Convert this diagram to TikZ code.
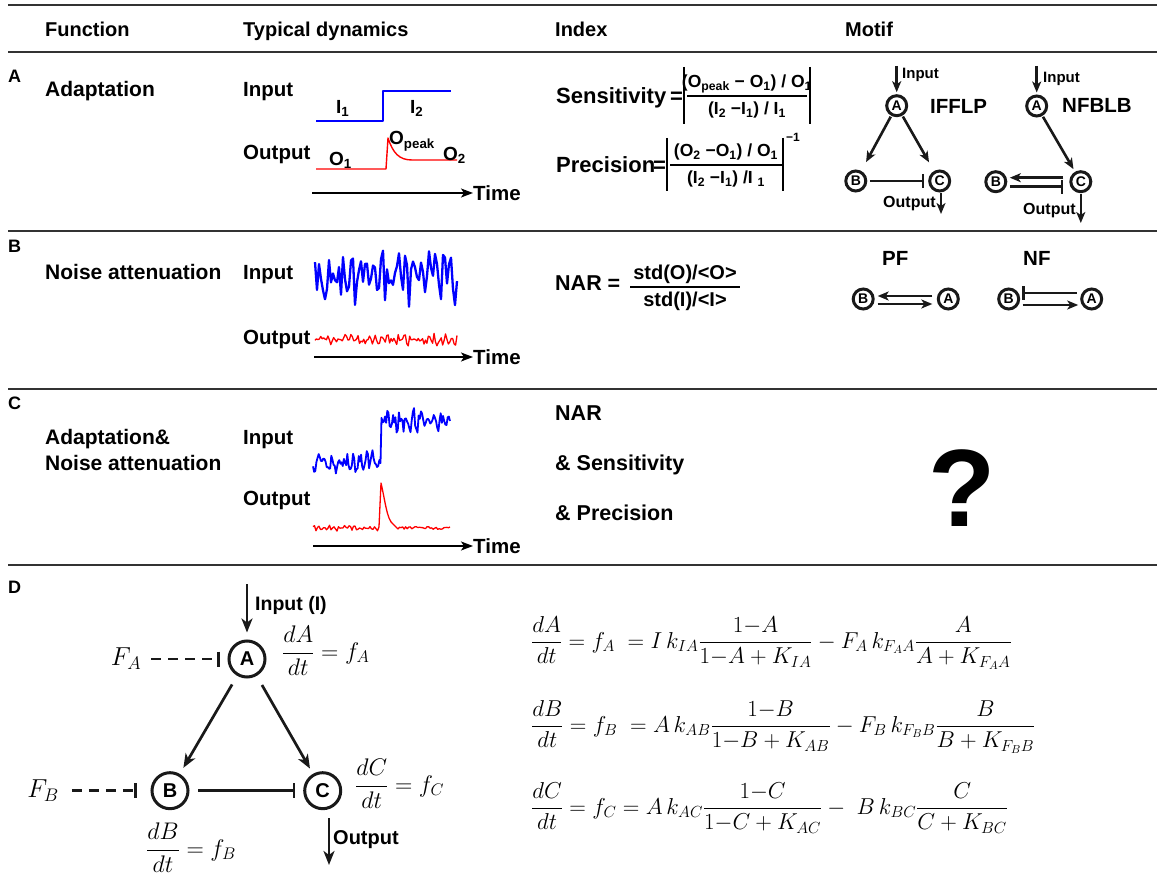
\RequirePackage{fix-cm}
\documentclass[tikz,border=0pt]{standalone}
\usepackage{amsmath}
\usepackage{fontspec}
\setmainfont{Liberation Sans}
\usetikzlibrary{arrows.meta}
\newcommand\myfs[1]{\fontsize{#1}{#1}\selectfont}
\begin{document}
\begin{tikzpicture}[x=1pt,y=-1pt,
  slab/.style={anchor=base west, inner sep=0pt, font=\bfseries\myfs{#1}},
  sctr/.style={anchor=base, inner sep=0pt, font=\bfseries\myfs{#1}},
  smath/.style={anchor=base west, inner sep=0pt, font=\myfs{#1}},
  myrule/.style={line width=2pt, draw=black!80},
  sblue/.style={draw=blue, line width=1.6pt, line join=round},
  sred/.style={draw=red, line width=1.4pt, line join=round},
  timeax/.style={line width=1.6pt, -{Stealth[length=12pt,width=9pt,inset=3pt]}},
  circD/.style={circle, draw=black!90, line width=3pt, minimum size=36pt, inner sep=0pt, font=\bfseries\myfs{20}},
  circM/.style={circle, draw=black!90, line width=3pt, minimum size=20pt, inner sep=0pt, font=\bfseries\myfs{14}},
  actD/.style={draw=black!90, line width=2.7pt, -{Stealth[length=14pt,width=11pt,inset=4pt]}},
  actM/.style={draw=black!90, line width=2.6pt, -{Stealth[length=11pt,width=9pt,inset=3pt]}},
  inhD/.style={draw=black!90, line width=2.7pt, -{Bar[width=15pt,line width=2.7pt]}},
  inhM/.style={draw=black!90, line width=2.6pt, -{Bar[width=14pt,line width=2.5pt]}},
  dinhD/.style={inhD, dash pattern=on 10pt off 7pt},
  fbar/.style={line width=1.3pt}
]
\useasboundingbox (0,0) rectangle (1157,882);
\fill[white] (0,0) rectangle (1157,882);
\pgfmathsetseed{42}

% ---------- rules ----------
\draw[myrule] (8,5) -- (1157,5);
\draw[myrule] (8,52) -- (1157,52);
\draw[myrule] (8,231) -- (1157,231);
\draw[myrule] (8,389) -- (1157,389);
\draw[myrule] (8,565) -- (1157,565);

% ---------- header ----------
\node[slab=20] (hF) at (45,37) {Function};
\node[slab=20] (hT) at (243,37) {Typical dynamics};
\node[slab=20] (hI) at (555,37) {Index};
\node[slab=20] (hM) at (845,37) {Motif};

% ---------- row letters and functions ----------
\node[slab=18] (rA) at (8,83) {A};
\node[slab=18] (rB) at (8,253) {B};
\node[slab=18] (rC) at (8,410) {C};
\node[slab=18] (rD) at (8,593) {D};
\node[slab=21] (fA) at (45,96.5) {Adaptation};
\node[slab=21] (fB) at (45,279.5) {Noise attenuation};
\node[slab=21] (fC1) at (45,444.5) {Adaptation\&};
\node[slab=21] (fC2) at (45,470.5) {Noise attenuation};

% ---------- row A dynamics ----------
\node[slab=20.5] (inA) at (243,96.4) {Input};
\node[slab=20.5] (outA) at (243,159.4) {Output};
\draw[sblue] (316,121) -- (383,121) -- (383,91) -- (451,91);
\draw[sred] (316,169) -- (386,169) -- (388,138) .. controls (393,153) and (399,160) .. (412,160) -- (457,160);
\node[slab=19] (I1) at (336,113.3) {I\textsubscript{1}};
\node[slab=19] (I2) at (410,113.3) {I\textsubscript{2}};
\node[slab=19] (O1) at (329,166) {O\textsubscript{1}};
\node[slab=19] (Op) at (389,145) {O\textsubscript{peak}};
\node[slab=19] (O2) at (443,160.7) {O\textsubscript{2}};
\node[slab=20.5] (tA) at (473,200.4) {Time};
\coordinate (tA0) at (312,193);
\draw[timeax] (tA0) -- (tA0 -| tA.west);

% ---------- row B dynamics ----------
\node[slab=20.5] (inB) at (243,279.4) {Input};
\node[slab=20.5] (outB) at (243,344.4) {Output};
\draw[sblue, line width=2.3pt] plot[domain=315:457, samples=72] (\x, {276+13*sin(47*(\x-300))+18*rand});
\draw[sred, line width=1.3pt] plot[domain=315:457, samples=100] (\x, {340+3*sin(61*(\x-300))+4*rand});
\node[slab=20.5] (tB) at (473,364.4) {Time};
\coordinate (tB0) at (314,357);
\draw[timeax] (tB0) -- (tB0 -| tB.west);

% ---------- row C dynamics ----------
\node[slab=20.5] (inC) at (243,444.4) {Input};
\node[slab=20.5] (outC) at (243,505.4) {Output};
\draw[sblue, line width=1.8pt] plot[domain=313:380.5, samples=60] (\x, {462+5*sin(53*(\x-300))+8*rand})
  -- plot[domain=381.5:450, samples=60] (\x, {420+5*sin(53*(\x-300))+8*rand});
\draw[sred, line width=1.3pt] plot[domain=313:379, samples=45] (\x, {528+1.5*sin(71*(\x-300))+1.6*rand})
  -- (381,483) .. controls (385,500) and (387,520) .. (393,524) -- (397,528)
  -- plot[domain=398:450, samples=35] (\x, {528+1.4*rand});
\node[slab=20.5] (tC) at (473,553.4) {Time};
\coordinate (tC0) at (313,546);
\draw[timeax] (tC0) -- (tC0 -| tC.west);

% ---------- index A ----------
\node[slab=22] (sens) at (556,104) {Sensitivity};
\node[slab=22] (sensEq) at (670,104) {=};
\node[sctr=17.5] (sensN) at (747,88) {(O\textsubscript{peak} − O\textsubscript{1}) / O\textsubscript{1}};
\node[sctr=17.5] (sensD) at (747,115) {(I\textsubscript{2} −I\textsubscript{1}) / I\textsubscript{1}};
\draw[fbar] (687,96) -- (807,96);
\draw[fbar] (684,67) -- (684,124);
\draw[fbar] (810,67) -- (810,124);
\node[slab=22] (prec) at (556,173) {Precision};
\node[slab=22] (precEq) at (653,173) {=};
\node[sctr=17.5] (precN) at (726,157) {(O\textsubscript{2} −O\textsubscript{1}) / O\textsubscript{1}};
\node[sctr=17.5] (precD) at (726,184) {(I\textsubscript{2} −I\textsubscript{1}) /I \textsubscript{1}};
\draw[fbar] (670,165) -- (782,165);
\draw[fbar] (667,138) -- (667,191);
\draw[fbar] (783,138) -- (783,191);
\node[slab=12] (precE) at (786,142) {−1};

% ---------- index B ----------
\node[slab=21.5] (nar) at (555,290.7) {NAR =};
\node[sctr=20] (narN) at (685,280) {std(O)/<O>};
\node[sctr=20] (narD) at (685,307) {std(I)/<I>};
\draw[fbar] (630,287) -- (740,287);

% ---------- index C ----------
\node[slab=21.5] (c1) at (555,420.7) {NAR};
\node[slab=21.5] (c2) at (555,470.7) {\& Sensitivity};
\node[slab=21.5] (c3) at (555,520.7) {\& Precision};
\node[font=\bfseries\myfs{110}, inner sep=0pt] (qm) at (962,488) {?};

% ---------- motif A: IFFLP ----------
\node[circM] (A1) at (896.7,105.7) {A};
\node[circM] (B1) at (855.8,181) {B};
\node[circM] (C1) at (939.7,181) {C};
\coordinate (in1) at (896.7,66);
\coordinate (out1) at (941,214);
\draw[actM, shorten >=2pt] (in1) -- (A1);
\node[slab=15] (in1t) at (902,78.4) {Input};
\node[slab=20.5] (ifflp) at (930,113.3) {IFFLP};
\draw[actM, shorten <=1pt, shorten >=10pt] (A1) -- (B1);
\draw[actM, shorten <=1pt, shorten >=10pt] (A1) -- (C1);
\draw[inhM, shorten <=2.5pt, shorten >=4pt] (B1) -- (C1);
\draw[actM, shorten <=1pt] (C1.south -| out1) -- (out1);
\node[slab=16] (out1t) at (883,207.7) {Output};

% ---------- motif A: NFBLB ----------
\node[circM] (A2) at (1036.7,106) {A};
\node[circM] (B2) at (995.8,181.7) {B};
\node[circM] (C2) at (1080.8,181.7) {C};
\coordinate (in2) at (1036.7,66);
\coordinate (out2) at (1080.8,223);
\draw[actM, shorten >=2pt] (in2) -- (A2);
\node[slab=15] (in2t) at (1043,82.4) {Input};
\node[slab=20.5] (nfblb) at (1062,112.3) {NFBLB};
\draw[actM, shorten <=1pt, shorten >=3pt] (A2) -- (C2);
\draw[actM, shorten <=6pt, shorten >=2.5pt] ([yshift=4pt]C2.west) -- ([yshift=4pt]B2.east);
\draw[inhM, shorten <=2.5pt, shorten >=6pt] ([yshift=-5pt]B2.east) -- ([yshift=-5pt]C2.west);
\draw[actM, shorten <=1pt] (C2.south) -- (out2);
\node[slab=16] (out2t) at (1023,214.7) {Output};

% ---------- motif B: PF, NF ----------
\node[slab=20.5] (pf) at (882,265.3) {PF};
\node[circM] (B3) at (863.2,299) {B};
\node[circM] (A3) at (948.3,299) {A};
\draw[actM, shorten <=4.5pt, shorten >=3pt] ([yshift=3pt]A3.west) -- ([yshift=3pt]B3.east);
\draw[actM, shorten <=3pt, shorten >=4.5pt] ([yshift=-5pt]B3.east) -- ([yshift=-5pt]A3.west);
\node[slab=20.5] (nf) at (1023,265.3) {NF};
\node[circM] (B4) at (1008.7,299) {B};
\node[circM] (A4) at (1091.7,299) {A};
\draw[inhM, shorten <=3.5pt, shorten >=2pt] ([yshift=6pt]A4.west) -- ([yshift=6pt]B4.east);
\draw[actM, shorten <=2.5pt, shorten >=2pt] ([yshift=-6pt]B4.east) -- ([yshift=-6pt]A4.west);

% ---------- row D diagram ----------
\node[circD] (A) at (247,659) {A};
\node[circD] (B) at (170,790.7) {B};
\node[circD] (C) at (322.7,790.7) {C};
\coordinate (Din) at (248,584);
\coordinate (Dout) at (329,865);
\draw[actD, shorten >=7pt] (Din -| A) -- (A);
\node[slab=19.5] (DinT) at (255,610) {Input (I)};
\draw[actD, shorten <=10pt, shorten >=7pt] (A) -- (B);
\draw[actD, shorten <=10.5pt, shorten >=6pt] (A) -- (C);
\draw[inhD, shorten <=8.5pt, shorten >=8pt] (B) -- (C);
\draw[actD, shorten <=8pt] (C.south -| Dout) -- (Dout);
\node[slab=20] (DoutT) at (333,844) {Output};
\node[inner sep=0pt, font=\myfs{26}] (FA) at (126,659) {$F_A$};
\node[inner sep=0pt, font=\myfs{26}] (FB) at (43,790.7) {$F_B$};
\draw[dinhD, shorten <=10pt, shorten >=7.5pt] (FA) -- (A);
\draw[dinhD, shorten <=13pt, shorten >=13.5pt] (FB) -- (B);
\node[smath=24] (eqA) at (282,659) {$\dfrac{dA}{dt}=f_A$};
\node[smath=24] (eqC) at (355,792) {$\dfrac{dC}{dt}=f_C$};
\node[smath=24] (eqB) at (146,856) {$\dfrac{dB}{dt}=f_B$};

% ---------- row D equations ----------
\node[smath=23] (e1) at (531,648) {$\dfrac{dA}{dt}=f_A\;=I\,k_{IA}\dfrac{1{-}A}{1{-}A+K_{IA}}-F_A\,k_{F_AA}\dfrac{A}{A+K_{F_AA}}$};
\node[smath=23] (e2) at (531,732) {$\dfrac{dB}{dt}=f_B\;=A\,k_{AB}\dfrac{1{-}B}{1{-}B+K_{AB}}-F_B\,k_{F_BB}\dfrac{B}{B+K_{F_BB}}$};
\node[smath=23] (e3) at (531,814) {$\dfrac{dC}{dt}=f_C=A\,k_{AC}\dfrac{1{-}C}{1{-}C+K_{AC}}-\;B\,k_{BC}\dfrac{C}{C+K_{BC}}$};
\end{tikzpicture}
\end{document}
